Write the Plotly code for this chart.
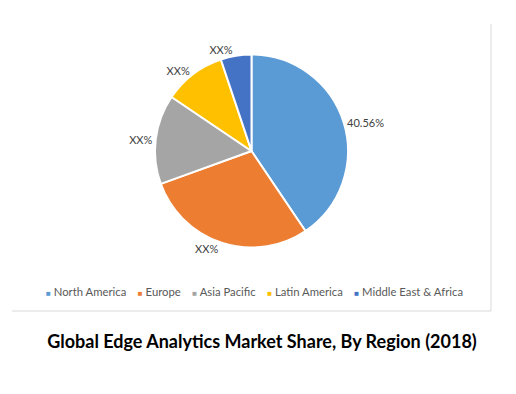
import plotly.graph_objects as go

regions = ["North America", "Europe", "Asia Pacific", "Latin America", "Middle East & Africa"]
shares = [40.56, 28.9, 15.0, 10.4, 5.14]
label_texts = ["40.56%", "XX%", "XX%", "XX%", "XX%"]
colors = ["#5B9BD5", "#ED7D31", "#A5A5A5", "#FFC000", "#4472C4"]
title_text = "Global Edge Analytics Market Share, By Region (2018)"

# The page body has an 8px margin, so the figure is sized to the visible area
OFF = 8
W, H = 516 - OFF, 394 - OFF


def px(x):
    return (x - OFF) / W


def py(y):
    return 1 - (y - OFF) / H


cx, cy, r = 251.5, 151.0, 96.5
FONT = "Lato, 'Open Sans', sans-serif"

fig = go.Figure()
fig.add_trace(go.Pie(
    labels=regions,
    values=shares,
    text=label_texts,
    textinfo="text",
    textposition="outside",
    sort=False,
    direction="clockwise",
    rotation=0,
    marker=dict(colors=colors, line=dict(color="white", width=2)),
    textfont=dict(family=FONT, size=11, color="#404040"),
    showlegend=False,
    domain=dict(x=[px(cx - r), px(cx + r)], y=[py(cy + r), py(cy - r)]),
    hoverinfo="label+percent",
))

# Legend row built from the region names and colours
sep = "\u00a0" * 4
legend_items = [
    f"<span style='color:{c};font-size:8px'>■</span>\u00a0{name}"
    for name, c in zip(regions, colors)
]
legend_html = sep.join(legend_items)

fig.update_layout(
    width=W, height=H,
    margin=dict(l=0, r=0, t=0, b=0),
    paper_bgcolor="white",
    plot_bgcolor="white",
    showlegend=False,
    title=dict(
        text=f"<b>{title_text}</b>",
        x=px(262), xanchor="center",
        y=py(342), yanchor="middle",
        xref="container", yref="container",
        font=dict(family=FONT, size=18, color="#000000"),
    ),
    annotations=[dict(
        text=legend_html,
        x=px(254), y=py(291),
        xref="paper", yref="paper",
        xanchor="center", yanchor="middle",
        showarrow=False,
        font=dict(family=FONT, size=11.3, color="#595959"),
    )],
    shapes=[
        dict(type="line", xref="paper", yref="paper",
             x0=px(491), x1=px(491), y0=py(24), y1=py(311),
             line=dict(color="#D9D9D9", width=1)),
        dict(type="line", xref="paper", yref="paper",
             x0=px(12), x1=px(491), y0=py(311), y1=py(311),
             line=dict(color="#D9D9D9", width=1)),
    ],
)

fig.write_html("out.html")
